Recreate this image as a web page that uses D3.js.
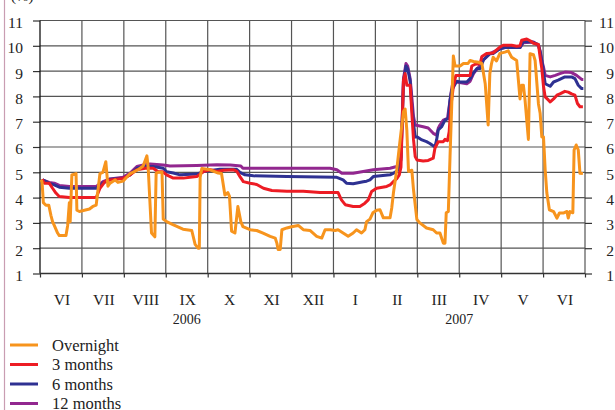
<!DOCTYPE html>
<html>
<head>
<meta charset="utf-8">
<script src="https://cdn.jsdelivr.net/npm/d3@7"></script>
<style>
  body { margin: 0; background: #fff; }
  svg { display: block; font-family: "Liberation Serif", "DejaVu Serif", serif; }
</style>
</head>
<body>
<div id="chart"></div>
<script>
// x = months since 1 June 2006 (each month drawn the same width)
const monthLabels = ["VI", "VII", "VIII", "IX", "X", "XI", "XII", "I", "II", "III", "IV", "V", "VI"];
const yearLabels = ["2006", "2007"];
const yearSpans = [[0, 7], [7, 13]];
const yTicks = [1, 2, 3, 4, 5, 6, 7, 8, 9, 10, 11];
const seriesNames = ["Overnight", "3 months", "6 months", "12 months"];

const overnight = [
  [0.03,4.7],[0.05,4.6],[0.08,3.8],[0.14,3.7],[0.21,3.7],[0.26,3.3],[0.30,3.05],[0.34,2.9],[0.42,2.6],[0.46,2.5],
  [0.62,2.5],[0.66,2.9],[0.70,3.8],[0.72,3.05],[0.76,4.9],[0.86,4.95],[0.88,3.5],[0.94,3.45],[1.06,3.5],[1.18,3.55],
  [1.26,3.65],[1.34,3.7],[1.43,4.95],[1.50,5.0],[1.57,5.42],[1.62,4.45],[1.67,4.57],[1.79,4.7],[1.86,4.6],[1.98,4.65],
  [2.15,4.95],[2.34,5.1],[2.46,5.25],[2.55,5.65],[2.58,5.2],[2.66,2.6],[2.74,2.45],[2.77,4.95],[2.81,5.0],[2.91,5.0],
  [2.94,3.15],[3.02,3.05],[3.17,2.93],[3.41,2.75],[3.62,2.7],[3.70,2.15],[3.77,2.0],[3.80,2.0],[3.82,4.8],[3.86,5.15],
  [4.06,5.1],[4.25,4.97],[4.33,4.95],[4.41,4.1],[4.48,4.2],[4.52,4.05],[4.57,2.67],[4.65,2.6],[4.72,3.65],[4.79,3.05],
  [4.84,2.85],[5.01,2.73],[5.17,2.7],[5.32,2.6],[5.49,2.47],[5.61,2.4],[5.65,2.2],[5.68,1.95],[5.73,1.95],[5.77,2.73],
  [5.89,2.8],[6.00,2.85],[6.16,2.9],[6.28,2.73],[6.44,2.7],[6.60,2.47],[6.72,2.4],[6.80,2.73],[6.92,2.73],[7.04,2.7],
  [7.11,2.73],[7.23,2.6],[7.35,2.47],[7.47,2.6],[7.55,2.73],[7.67,2.6],[7.75,2.73],[7.79,3.05],[7.87,3.15],[7.94,3.4],
  [8.03,3.5],[8.11,3.52],[8.19,3.2],[8.35,3.2],[8.39,3.59],[8.43,4.18],[8.51,5.1],[8.59,6.28],[8.67,7.4],[8.71,7.5],
  [8.75,6.67],[8.79,5.03],[8.87,5.08],[8.91,4.3],[8.99,3.13],[9.06,3.0],[9.22,2.8],[9.38,2.73],[9.46,2.6],[9.54,2.6],
  [9.62,2.2],[9.66,2.2],[9.69,3.4],[9.74,3.45],[9.78,5.6],[9.82,7.6],[9.86,9.6],[9.90,9.2],[10.02,9.2],[10.10,9.3],
  [10.21,9.3],[10.26,9.42],[10.34,9.38],[10.46,9.35],[10.54,9.3],[10.62,8.5],[10.69,6.87],[10.73,8.9],[10.77,9.3],[10.81,9.55],
  [10.89,9.4],[10.97,9.7],[11.09,9.75],[11.17,9.8],[11.25,9.55],[11.37,9.42],[11.45,7.9],[11.49,8.44],[11.53,8.44],[11.57,7.85],
  [11.65,6.3],[11.69,9.69],[11.77,9.65],[11.81,9.42],[11.89,7.7],[11.93,7.33],[11.97,6.4],[12.01,6.4],[12.05,5.1],[12.09,4.18],
  [12.15,3.52],[12.25,3.45],[12.33,3.19],[12.39,3.39],[12.48,3.39],[12.57,3.45],[12.60,3.19],[12.64,3.45],[12.71,3.4],[12.74,5.88],
  [12.79,6.08],[12.84,5.88],[12.88,4.96],[12.95,4.95]
];

const months3 = [
  [0.05,4.73],[0.10,4.57],[0.22,4.57],[0.30,4.37],[0.38,4.18],[0.46,4.04],[0.70,4.0],[1.30,4.0],[1.35,4.04],[1.43,4.37],
  [1.55,4.63],[1.67,4.7],[1.98,4.76],[2.15,4.9],[2.31,5.1],[2.51,5.16],[2.70,5.16],[2.82,5.02],[2.93,5.02],[3.02,4.9],
  [3.18,4.77],[3.42,4.77],[3.58,4.8],[3.74,4.83],[3.90,5.03],[4.06,5.1],[4.22,5.03],[4.38,5.08],[4.61,5.1],[4.69,5.05],
  [4.77,4.83],[4.85,4.63],[5.01,4.57],[5.17,4.52],[5.33,4.37],[5.53,4.28],[5.89,4.25],[6.28,4.25],[6.68,4.2],[7.11,4.2],
  [7.19,3.91],[7.28,3.72],[7.47,3.65],[7.63,3.65],[7.75,3.78],[7.83,3.91],[7.91,4.24],[8.03,4.37],[8.27,4.44],[8.35,4.5],
  [8.43,4.63],[8.51,4.75],[8.57,4.9],[8.61,5.2],[8.67,8.64],[8.71,8.9],[8.75,8.44],[8.83,8.44],[8.87,7.33],[8.91,6.28],
  [8.95,5.62],[8.99,5.49],[9.14,5.45],[9.26,5.47],[9.38,5.56],[9.42,5.95],[9.50,6.21],[9.62,6.21],[9.66,6.3],[9.72,6.25],
  [9.76,6.6],[9.80,7.6],[9.86,8.4],[9.92,8.83],[10.26,8.83],[10.30,9.2],[10.38,9.27],[10.50,9.3],[10.54,9.58],[10.66,9.7],
  [10.81,9.72],[10.97,9.95],[11.05,10.02],[11.25,10.02],[11.37,9.98],[11.45,10.0],[11.49,10.22],[11.61,10.27],[11.69,10.2],[11.77,10.1],
  [11.89,10.05],[11.93,9.55],[11.97,9.1],[12.01,8.4],[12.05,7.98],[12.13,7.85],[12.17,7.78],[12.25,7.9],[12.33,8.05],[12.40,8.1],
  [12.52,8.2],[12.60,8.17],[12.68,8.1],[12.76,8.05],[12.82,7.72],[12.88,7.59],[12.95,7.59]
];

const months6 = [
  [0.06,4.7],[0.22,4.57],[0.34,4.5],[0.46,4.41],[0.70,4.37],[1.34,4.37],[1.50,4.57],[1.67,4.73],[1.98,4.76],[2.15,4.9],
  [2.31,5.16],[2.47,5.23],[2.70,5.23],[2.94,5.16],[3.02,5.02],[3.18,4.97],[3.34,4.9],[3.74,4.93],[3.90,5.03],[4.29,5.12],
  [4.69,5.12],[4.77,5.0],[4.89,4.9],[5.09,4.86],[5.89,4.83],[7.08,4.8],[7.23,4.7],[7.31,4.57],[7.47,4.55],[7.71,4.63],
  [7.79,4.65],[7.87,4.7],[7.95,4.83],[8.35,4.9],[8.47,5.0],[8.55,5.1],[8.61,5.5],[8.67,8.6],[8.73,9.2],[8.77,9.1],
  [8.83,8.6],[8.87,7.6],[8.91,6.93],[8.95,6.4],[9.00,6.4],[9.11,6.28],[9.22,6.21],[9.30,6.14],[9.42,6.0],[9.46,6.28],
  [9.50,6.67],[9.58,6.8],[9.66,7.06],[9.74,7.13],[9.78,7.85],[9.82,8.24],[9.94,8.6],[10.02,8.57],[10.18,8.57],[10.26,8.7],
  [10.34,8.93],[10.42,9.1],[10.50,9.1],[10.58,9.45],[10.73,9.69],[10.81,9.7],[10.97,9.88],[11.09,9.93],[11.45,9.93],[11.53,10.17],
  [11.73,10.15],[11.81,10.1],[11.89,10.05],[11.93,9.75],[11.99,9.2],[12.05,8.5],[12.17,8.4],[12.25,8.57],[12.36,8.64],[12.52,8.77],
  [12.68,8.77],[12.76,8.7],[12.84,8.44],[12.92,8.31],[12.96,8.31]
];

const months12 = [
  [0.06,4.7],[0.22,4.6],[0.34,4.57],[0.46,4.48],[0.70,4.44],[1.34,4.44],[1.50,4.63],[1.67,4.74],[1.98,4.8],[2.15,4.97],
  [2.31,5.23],[2.47,5.29],[2.63,5.33],[2.94,5.29],[3.10,5.25],[3.74,5.27],[4.22,5.3],[4.54,5.29],[4.79,5.25],[4.84,5.16],
  [6.92,5.16],[7.08,5.1],[7.20,4.96],[7.47,4.96],[7.71,5.03],[7.95,5.1],[8.35,5.16],[8.51,5.23],[8.55,5.25],[8.61,5.6],
  [8.67,8.7],[8.73,9.3],[8.77,9.2],[8.83,8.7],[8.91,7.2],[8.95,6.87],[9.14,6.8],[9.26,6.75],[9.38,6.54],[9.46,6.47],
  [9.50,6.74],[9.54,6.87],[9.62,7.06],[9.72,7.13],[9.76,7.6],[9.82,8.3],[9.86,8.64],[9.94,8.57],[10.18,8.5],[10.26,8.6],
  [10.34,8.9],[10.46,9.16],[10.58,9.45],[10.73,9.69],[10.97,9.88],[11.13,9.95],[11.45,9.93],[11.53,10.12],[11.77,10.15],[11.89,10.0],
  [11.93,9.8],[11.97,9.42],[12.01,9.16],[12.05,8.83],[12.17,8.77],[12.29,8.83],[12.40,8.9],[12.52,8.96],[12.68,8.94],[12.80,8.83],
  [12.92,8.67],[12.96,8.67]
];

const seriesValues = [overnight, months3, months6, months12];
const seriesColors = ["#f7941d", "#ed1c24", "#2e3192", "#92278f"];

const width = 615, height = 410;
const plot = { left: 40, right: 585, top: 20.5, bottom: 273.5 };

const svg = d3.select("#chart").append("svg")
    .attr("width", width)
    .attr("height", height);

const x = d3.scaleLinear().domain([0, 13]).range([plot.left, plot.right]);
const y = d3.scaleLinear().domain([1, 11]).range([plot.bottom, plot.top]);

// chap tomondagi pushti chiziq
svg.append("line")
    .attr("x1", 4.5).attr("x2", 4.5).attr("y1", 0).attr("y2", height)
    .attr("stroke", "#c99db2").attr("stroke-width", 1.2);

svg.append("text")
    .attr("x", 11).attr("y", 1)
    .style("font-size", "15px")
    .attr("fill", "#222")
    .text("(%)");

// grid
const grid = svg.append("g").attr("stroke", "#555").attr("stroke-width", 1.2);
grid.selectAll("line.h").data(yTicks).enter().append("line")
    .attr("class", "h")
    .attr("x1", plot.left).attr("x2", plot.right)
    .attr("y1", d => y(d)).attr("y2", d => y(d));
grid.selectAll("line.v").data(d3.range(1, 14)).enter().append("line")
    .attr("class", "v")
    .attr("x1", d => x(d)).attr("x2", d => x(d))
    .attr("y1", plot.top).attr("y2", plot.bottom);

// axes
const yLeft = d3.axisLeft(y).tickValues(yTicks).tickSize(7).tickPadding(10);
const yRight = d3.axisRight(y).tickValues(yTicks).tickSize(7).tickPadding(22);
const xBottom = d3.axisBottom(x).tickValues(d3.range(0, 14)).tickSize(4).tickFormat("");

function styleAxis(g) {
    g.select(".domain").remove();
    g.selectAll(".tick line").attr("stroke", "#333").attr("stroke-width", 1.2);
    g.selectAll("text").style("font-family", "Liberation Serif, serif").style("font-size", "15.5px").attr("fill", "#222");
}

svg.append("g").attr("transform", `translate(${plot.left},0)`).call(yLeft).call(styleAxis)
    .selectAll("text").attr("dy", "0.45em");
const gr = svg.append("g").attr("transform", `translate(${plot.right},0)`).call(yRight).call(styleAxis);
gr.selectAll("text").attr("dy", "0.45em").attr("text-anchor", "end");
svg.append("g").attr("transform", `translate(0,${plot.bottom})`).call(xBottom).call(styleAxis);

svg.append("line")
    .attr("x1", plot.left).attr("x2", plot.left).attr("y1", plot.top).attr("y2", plot.bottom)
    .attr("stroke", "#111").attr("stroke-width", 1.3);
svg.append("line")
    .attr("x1", plot.left).attr("x2", plot.right).attr("y1", plot.bottom).attr("y2", plot.bottom)
    .attr("stroke", "#333").attr("stroke-width", 1.3);

// oy nomlari
svg.append("g").selectAll("text").data(monthLabels).enter().append("text")
    .attr("x", (d, i) => x(i + 0.5) + 1)
    .attr("y", 305)
    .attr("text-anchor", "middle")
    .style("font-size", "15.5px")
    .attr("fill", "#222")
    .text(d => d);

svg.append("g").selectAll("text").data(yearLabels).enter().append("text")
    .attr("x", (d, i) => x((yearSpans[i][0] + yearSpans[i][1]) / 2))
    .attr("y", 324)
    .attr("text-anchor", "middle")
    .style("font-size", "14px")
    .attr("fill", "#222")
    .text(d => d);

// chiziqlar (overnight eng ustida)
const line = d3.line().x(d => x(d[0])).y(d => y(d[1]));
const order = [3, 2, 1, 0];
svg.append("g").selectAll("path").data(order).enter().append("path")
    .attr("d", i => line(seriesValues[i]))
    .attr("fill", "none")
    .attr("stroke", i => seriesColors[i])
    .attr("stroke-width", 3)
    .attr("stroke-linejoin", "round");

// legend
const legend = svg.append("g").selectAll("g").data(seriesNames).enter().append("g")
    .attr("transform", (d, i) => `translate(10,${345 + i * 19.5})`);
legend.append("line")
    .attr("x1", 0).attr("x2", 28)
    .attr("stroke", (d, i) => seriesColors[i])
    .attr("stroke-width", 3);
legend.append("text")
    .attr("x", 42).attr("y", 5.5)
    .style("font-size", "16.5px")
    .attr("fill", "#222")
    .text(d => d);
</script>
</body>
</html>
